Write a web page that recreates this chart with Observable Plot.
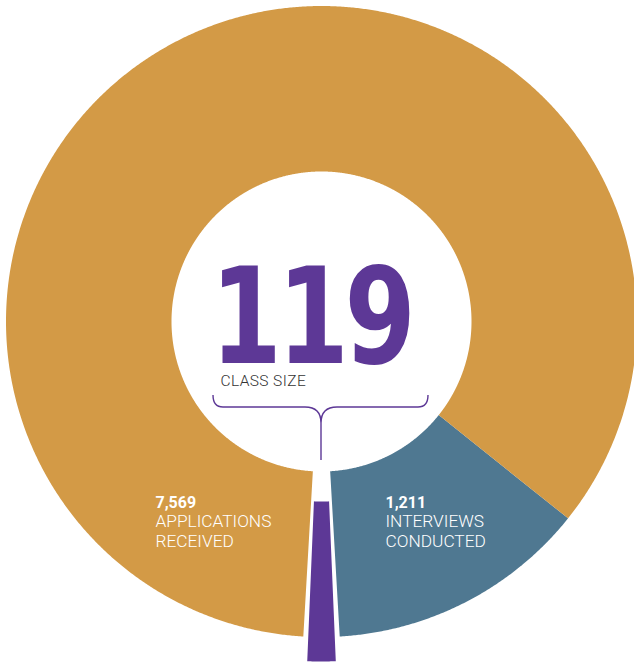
<!DOCTYPE html>
<html>
<head>
<meta charset="utf-8">
<script src="https://cdn.jsdelivr.net/npm/d3@7"></script>
<script src="https://cdn.jsdelivr.net/npm/@observablehq/plot@0.6"></script>
<style>
  html, body { margin: 0; padding: 0; background: #fff; }
  #chart svg { display: block; }
</style>
</head>
<body>
<div id="chart"></div>
<script>
// ---- data ----
const labels = ["Interviews conducted", "Class size", "Applications received"];
const values = [1211, 119, 7569];
const colors = ["#4F7891", "#5D3896", "#D39A46"];
const numberText = ["1,211", "119", "7,569"];
const nameText = ["INTERVIEWS\nCONDUCTED", "CLASS SIZE", "APPLICATIONS\nRECEIVED"];

// ---- layout (not data) ----
const W = 634, H = 664;
const CX = 321, CY = 321;          // centre in pixels
const R = 315.5, r = 150;          // ring radii
const rHiIn = 180, rHiOut = 340;   // highlighted slice radii
const startDeg = 128.6;            // clock angle where the first slice starts
const padDeg = 0.9;                // gap each side of the highlighted slice
const highlight = "Class size";

const pie = d3.pie().sort(null).value(d => d.value)
  .startAngle(startDeg * Math.PI / 180)
  .endAngle((startDeg + 360) * Math.PI / 180);
const data = labels.map((label, i) => ({label, value: values[i]}));
const arcs = pie(data);
const hiIndex = labels.indexOf(highlight);

// build polygon points per slice
const pts = [];
arcs.forEach((a, i) => {
  let a0 = a.startAngle, a1 = a.endAngle;
  const pad = padDeg * Math.PI / 180;
  if (i === hiIndex - 1) a1 -= pad;
  if (i === hiIndex + 1) a0 += pad;
  const rin = i === hiIndex ? rHiIn : r;
  const rout = i === hiIndex ? rHiOut : R;
  const n = Math.max(2, Math.ceil((a1 - a0) / 0.005));
  const ring = [];
  for (let k = 0; k <= n; k++) { const t = a0 + (a1 - a0) * k / n; ring.push([rout * Math.sin(t), rout * Math.cos(t)]); }
  for (let k = n; k >= 0; k--) { const t = a0 + (a1 - a0) * k / n; ring.push([rin * Math.sin(t), rin * Math.cos(t)]); }
  ring.forEach(([x, y]) => pts.push({x, y, label: a.data.label}));
});

// label positions (layout)
const numPos = {
  "Interviews conducted": {x: 64, y: -186},
  "Applications received": {x: -166, y: -186}
};
const sideLabels = labels.filter(l => l !== highlight).map(l => {
  const i = labels.indexOf(l);
  return {label: l, num: numberText[i], name: nameText[i], ...numPos[l]};
});
const hiI = hiIndex;
const bigPos = {x: -111, y: -41};

// brace annotation (geometry relative to centre)
function brace(index, scales) {
  const sx = scales && scales.x ? scales.x : (v => v + CX);
  const sy = scales && scales.y ? scales.y : (v => CY - v);
  const X = v => sx(v), Y = v => sy(v);
  const left = -108, right = 107, top = -74, bar = -86, tip = -102, end = -139;
  const p = d3.path();
  p.moveTo(X(left), Y(top));
  p.quadraticCurveTo(X(left), Y(bar), X(left + 10), Y(bar));
  p.lineTo(X(-16), Y(bar));
  p.bezierCurveTo(X(-4), Y(bar), X(0), Y(bar - 6), X(0), Y(tip));
  p.lineTo(X(0), Y(end));
  p.moveTo(X(0), Y(tip));
  p.bezierCurveTo(X(0), Y(bar - 6), X(4), Y(bar), X(16), Y(bar));
  p.lineTo(X(right - 10), Y(bar));
  p.quadraticCurveTo(X(right), Y(bar), X(right), Y(top));
  const path = document.createElementNS("http://www.w3.org/2000/svg", "path");
  path.setAttribute("d", p.toString());
  path.setAttribute("fill", "none");
  path.setAttribute("stroke", colors[hiI]);
  path.setAttribute("stroke-width", "1.4");
  const g = document.createElementNS("http://www.w3.org/2000/svg", "g");
  g.appendChild(path);
  return g;
}

const chart = Plot.plot({
  width: W,
  height: H,
  margin: 0,
  style: {background: "#fff"},
  x: {domain: [-CX, W - CX], range: [0, W], axis: null},
  y: {domain: [CY, CY - H], range: [0, H], axis: null},
  color: {domain: labels, range: colors},
  marks: [
    Plot.line(pts, {x: "x", y: "y", z: "label", fill: "label", stroke: null}),
    Plot.text([{t: numberText[hiI]}], {
      x: () => bigPos.x, y: () => bigPos.y, text: "t",
      textAnchor: "start", lineAnchor: "bottom",
      fontFamily: "DejaVu Sans Condensed", fontWeight: "bold",
      fontSize: 134, fill: colors[hiI]
    }),
    Plot.text([{t: nameText[hiI]}], {
      x: () => -101, y: () => -64, text: "t",
      textAnchor: "start", lineAnchor: "bottom",
      fontFamily: "Roboto", fontWeight: 300, fontSize: 15.5, fill: "#333"
    }),
    brace,
    Plot.text(sideLabels, {
      x: "x", y: "y", text: "num",
      textAnchor: "start", lineAnchor: "bottom",
      fontFamily: "Roboto", fontWeight: "bold", fontSize: 16, fill: "#fff"
    }),
    Plot.text(sideLabels, {
      x: "x", y: d => d.y - 39, text: "name",
      textAnchor: "start", lineAnchor: "bottom", lineHeight: 1.14,
      fontFamily: "Roboto", fontWeight: 300, fontSize: 17.3, fill: "#fff"
    })
  ]
});
const ax = bigPos.x + CX, ay = CY - bigPos.y;
d3.select(chart).selectAll("text").each(function () {
  const t = this.textContent;
  if (t === numberText[hiI]) {
    this.setAttribute("letter-spacing", "-5");
    const tr = this.getAttribute("transform") || "";
    this.setAttribute("transform", `translate(${ax},${ay}) scale(0.85,1) translate(${-ax},${-ay}) ${tr}`);
  }
  if (t === nameText[hiI]) this.setAttribute("letter-spacing", "0.4");
});
document.getElementById("chart").appendChild(chart);
</script>
</body>
</html>
